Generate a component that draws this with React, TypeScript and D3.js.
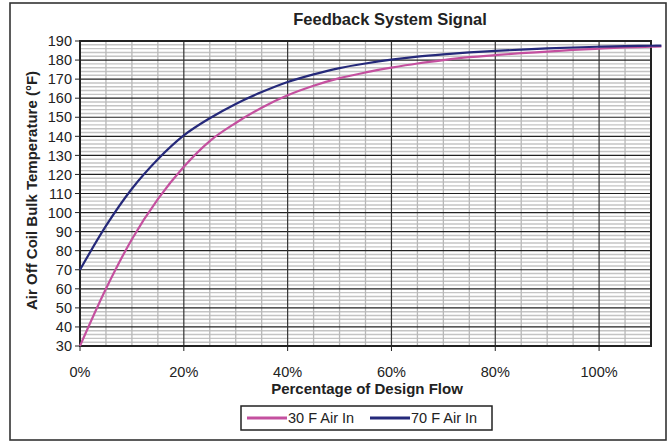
import * as d3 from "d3";

const flow = [0, 5, 10, 15, 20, 25, 30, 35, 40, 45, 50, 55, 60, 65, 70, 75, 80, 85, 90, 95, 100, 105, 110, 112];
const air30 = [30, 60, 86, 107, 124, 137.5, 147, 155, 161.5, 166.5, 170.5, 173.5, 176, 178.2, 180, 181.5, 182.6, 183.6, 184.4, 185.3, 186, 186.6, 187, 187.2];
const air70 = [70, 93, 112.5, 128, 140.5, 149.5, 157, 163.2, 168.5, 172.5, 175.8, 178.2, 180.2, 181.8, 183, 184, 184.8, 185.5, 186.1, 186.6, 187, 187.3, 187.5, 187.6];
const seriesNames = ["30 F Air In", "70 F Air In"];
const xTicks = [0, 20, 40, 60, 80, 100];
const yTicks = [30, 40, 50, 60, 70, 80, 90, 100, 110, 120, 130, 140, 150, 160, 170, 180, 190];

const W = 668;
const H = 442;
const plot = { left: 80, right: 651, top: 41, bottom: 346 };
const colors = ["#c4509f", "#25297a"];
const font = "'Liberation Sans', Arial, Helvetica, sans-serif";

export default function App() {
  const x = d3.scaleLinear().domain([0, 110]).range([plot.left, plot.right]);
  const y = d3.scaleLinear().domain([30, 190]).range([plot.bottom, plot.top]);

  const minorY = d3.range(30, 191, 2).filter((v) => v % 10 !== 0);
  const minorX = d3.range(0, 111, 5).filter((v) => v % 20 !== 0);
  const majorX = d3.range(0, 111, 20);

  const line = d3
    .line<number>()
    .x((_, i) => x(flow[i]))
    .y((d) => y(d))
    .curve(d3.curveMonotoneX);

  const series = [air30, air70];

  return (
    <svg
      width={W}
      height={H}
      style={{ position: "absolute", left: 0, top: 0, background: "white" }}
      fontFamily={font}
    >
      <rect x={10} y={3} width={656} height={437} fill="white" stroke="#333" strokeWidth={1.6} />

      <text x={390} y={25} textAnchor="middle" fontSize={16.5} fontWeight="bold" fill="#222">
        Feedback System Signal
      </text>

      {/* minor grid */}
      {minorY.map((v) => (
        <line key={"my" + v} x1={plot.left} x2={plot.right} y1={y(v)} y2={y(v)} stroke="#c4c4c4" strokeWidth={1.4} />
      ))}
      {minorX.map((v) => (
        <line key={"mx" + v} x1={x(v)} x2={x(v)} y1={plot.top} y2={plot.bottom} stroke="#b8b8b8" strokeWidth={1.3} />
      ))}
      {/* major grid */}
      {yTicks.map((v) => (
        <line key={"gy" + v} x1={plot.left} x2={plot.right} y1={y(v)} y2={y(v)} stroke="#222" strokeWidth={1.2} />
      ))}
      {majorX.map((v) => (
        <line key={"gx" + v} x1={x(v)} x2={x(v)} y1={plot.top} y2={plot.bottom} stroke="#333" strokeWidth={1.2} />
      ))}
      <rect
        x={plot.left}
        y={plot.top}
        width={plot.right - plot.left}
        height={plot.bottom - plot.top}
        fill="none"
        stroke="#222"
        strokeWidth={2}
      />

      {/* y axis ticks */}
      {yTicks.map((v) => (
        <g key={"ty" + v}>
          <line x1={plot.left - 5} x2={plot.left} y1={y(v)} y2={y(v)} stroke="#222" strokeWidth={1} />
          <text x={plot.left - 8} y={y(v)} dy="0.36em" textAnchor="end" fontSize={14.5} fill="#222">
            {v}
          </text>
        </g>
      ))}
      {/* x axis ticks */}
      {xTicks.map((v) => (
        <g key={"tx" + v}>
          <line x1={x(v)} x2={x(v)} y1={plot.bottom} y2={plot.bottom + 5} stroke="#222" strokeWidth={1} />
          <text x={x(v)} y={372} dy="0.36em" textAnchor="middle" fontSize={14.5} fill="#222">
            {v}%
          </text>
        </g>
      ))}

      {series.map((s, i) => (
        <path key={"s" + i} d={line(s) ?? ""} fill="none" stroke={colors[i]} strokeWidth={2.2} />
      ))}

      <text x={367} y={394} textAnchor="middle" fontSize={15} fontWeight="bold" fill="#222">
        Percentage of Design Flow
      </text>
      <text
        transform={`translate(37,${(plot.top + plot.bottom) / 2 - 3}) rotate(-90)`}
        textAnchor="middle"
        fontSize={15}
        fontWeight="bold"
        fill="#222"
      >
        Air Off Coil Bulk Temperature (°F)
      </text>

      {/* legend */}
      <rect x={241} y={406} width={251} height={24} fill="white" stroke="#222" strokeWidth={1.5} />
      {seriesNames.map((n, i) => (
        <g key={"l" + i} transform={`translate(${247 + i * 123},418)`}>
          <line x1={0} x2={40} y1={0} y2={0} stroke={colors[i]} strokeWidth={3} />
          <text x={41} y={0} dy="0.36em" fontSize={14.5} fill="#222">
            {n}
          </text>
        </g>
      ))}
    </svg>
  );
}
